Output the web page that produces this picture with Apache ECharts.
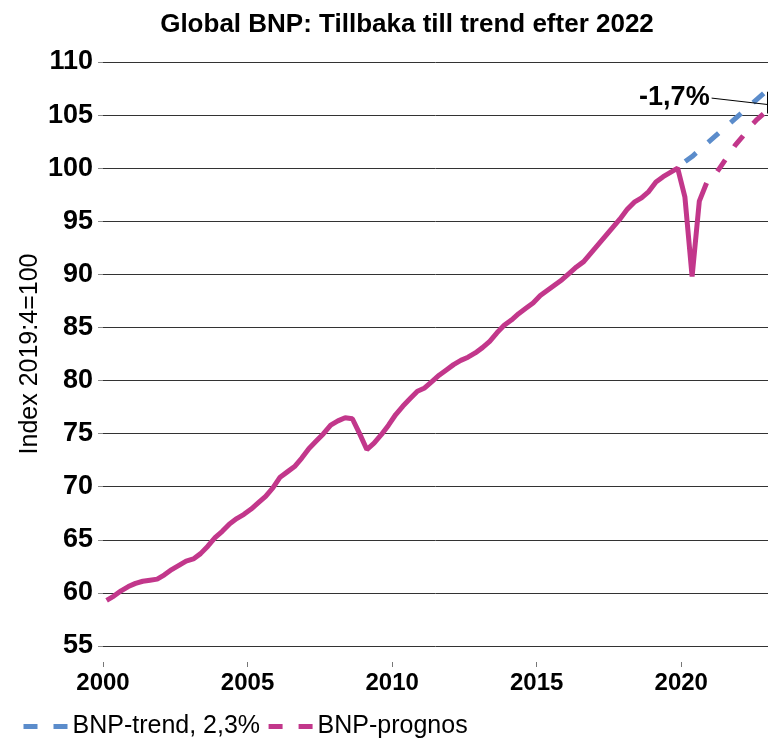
<!DOCTYPE html>
<html>
<head>
<meta charset="utf-8">
<script src="https://cdn.jsdelivr.net/npm/echarts@6/dist/echarts.min.js"></script>
<style>
html, body { margin: 0; padding: 0; background: #fff; }
#chart { width: 782px; height: 743px; }
</style>
</head>
<body>
<div id="chart"></div>
<script>
// kvartalsdata, första värdet = 2000:1
var startYear = 2000;
var bnp = [
  59.3, 59.7, 60.2, 60.6, 60.9, 61.1, 61.2, 61.3,
  61.7, 62.2, 62.6, 63.0, 63.2, 63.7, 64.4, 65.2,
  65.8, 66.5, 67.0, 67.4, 67.9, 68.5, 69.1, 69.9,
  70.9, 71.4, 71.9, 72.7, 73.6, 74.3, 75.0, 75.8,
  76.2, 76.5, 76.4, 75.0, 73.5, 74.1, 74.9, 75.8,
  76.8, 77.6, 78.3, 79.0, 79.3, 79.9, 80.5, 81.0,
  81.5, 81.9, 82.2, 82.6, 83.1, 83.7, 84.5, 85.2,
  85.7, 86.3, 86.8, 87.3, 88.0, 88.5, 89.0, 89.5,
  90.1, 90.7, 91.2, 92.0, 92.8, 93.6, 94.4, 95.2,
  96.1, 96.8, 97.2, 97.8, 98.7, 99.2, 99.6, 100.0,
  97.3, 89.8, 96.9, 98.6
];
// prognos 2020:4 - 2022:4
var prognosStart = 83;
var prognos = [98.6, 99.2, 100.2, 101.2, 102.2, 103.0, 103.9, 104.6, 105.2];
// trend 2,3% 2019:4 - 2022:4
var trendStart = 79;
var trend = [100.0, 100.6, 101.1, 101.7, 102.3, 102.9, 103.5, 104.1, 104.7, 105.3, 105.9, 106.5, 107.1];
var yearTicks = [2000, 2005, 2010, 2015, 2020];

var font = 'Liberation Sans, Arial, sans-serif';
var pink = '#C2378B';
var blue = '#5B8CCB';

function quarterX(i) {
  return startYear + (i + 0.5) / 4;
}
function toPairs(arr, start) {
  return arr.map(function (v, k) { return [quarterX(start + k), v]; });
}

var myChart = echarts.init(document.getElementById('chart'));
var option = {
  animation: false,
  title: {
    text: 'Global BNP: Tillbaka till trend efter 2022',
    left: 402,
    top: 7,
    textAlign: 'center',
    textStyle: { fontFamily: font, fontSize: 26, fontWeight: 'bold', color: '#000' }
  },
  legend: {
    data: ['BNP-trend, 2,3%', 'BNP-prognos'],
    left: 21,
    top: 714,
    padding: 0,
    itemWidth: 44,
    itemHeight: 14,
    itemGap: 6,
    itemStyle: { opacity: 0 },
    lineStyle: { width: 5, dashOffset: 0 },
    textStyle: { fontFamily: font, fontSize: 25, color: '#000' }
  },
  grid: { left: 103, right: 14, top: 62, bottom: 97 },
  xAxis: {
    type: 'value',
    min: 2000,
    max: 2023,
    offset: 16,
    axisLine: { show: false },
    axisTick: { show: true, length: 5, lineStyle: { color: '#777' }, customValues: yearTicks },
    axisLabel: {
      margin: 9,
      customValues: yearTicks,
      formatter: function (v) { return String(v); },
      fontFamily: font, fontSize: 24, fontWeight: 'bold', color: '#000'
    },
    splitLine: { show: false }
  },
  yAxis: {
    type: 'value',
    min: 55,
    max: 110,
    interval: 5,
    name: 'Index 2019:4=100',
    nameLocation: 'middle',
    nameGap: 60,
    nameMoveOverlap: false,
    nameTextStyle: { fontFamily: font, fontSize: 25, color: '#000' },
    axisLine: { show: false },
    axisTick: { show: true, length: 5, lineStyle: { color: '#888' } },
    axisLabel: { margin: 10, fontFamily: font, fontSize: 27, fontWeight: 'bold', color: '#000' },
    splitLine: { lineStyle: { color: '#333', width: 1 } }
  },
  series: [{
    name: 'BNP-trend, 2,3%',
    type: 'line',
    symbol: 'none',
    z: 2,
    lineStyle: { color: blue, width: 5, type: [14, 16], dashOffset: 20, cap: 'butt' },
    itemStyle: { color: blue },
    data: toPairs(trend, trendStart),
    markLine: {
      silent: true,
      symbol: 'none',
      lineStyle: { type: 'solid', color: '#000', width: 1 },
      label: {
        show: true,
        position: 'start',
        distance: 2,
        formatter: '-1,7%',
        fontFamily: font, fontSize: 27, fontWeight: 'bold', color: '#000'
      },
      data: [
        [{ coord: [2021.05, 106.6] }, { coord: [2022.975, 106.0] }],
        [{ coord: [2022.975, 107.2], label: { show: false } }, { coord: [2022.975, 105.15] }]
      ]
    }
  }, {
    name: 'BNP-prognos',
    type: 'line',
    symbol: 'none',
    z: 3,
    lineStyle: { color: pink, width: 5, type: [14, 16], dashOffset: 14, cap: 'butt' },
    itemStyle: { color: pink },
    data: toPairs(prognos, prognosStart)
  }, {
    name: 'BNP',
    type: 'line',
    symbol: 'none',
    z: 4,
    lineStyle: { color: pink, width: 5 },
    itemStyle: { color: pink },
    data: toPairs(bnp, 0)
  }]
};
myChart.setOption(option);
</script>
</body>
</html>
